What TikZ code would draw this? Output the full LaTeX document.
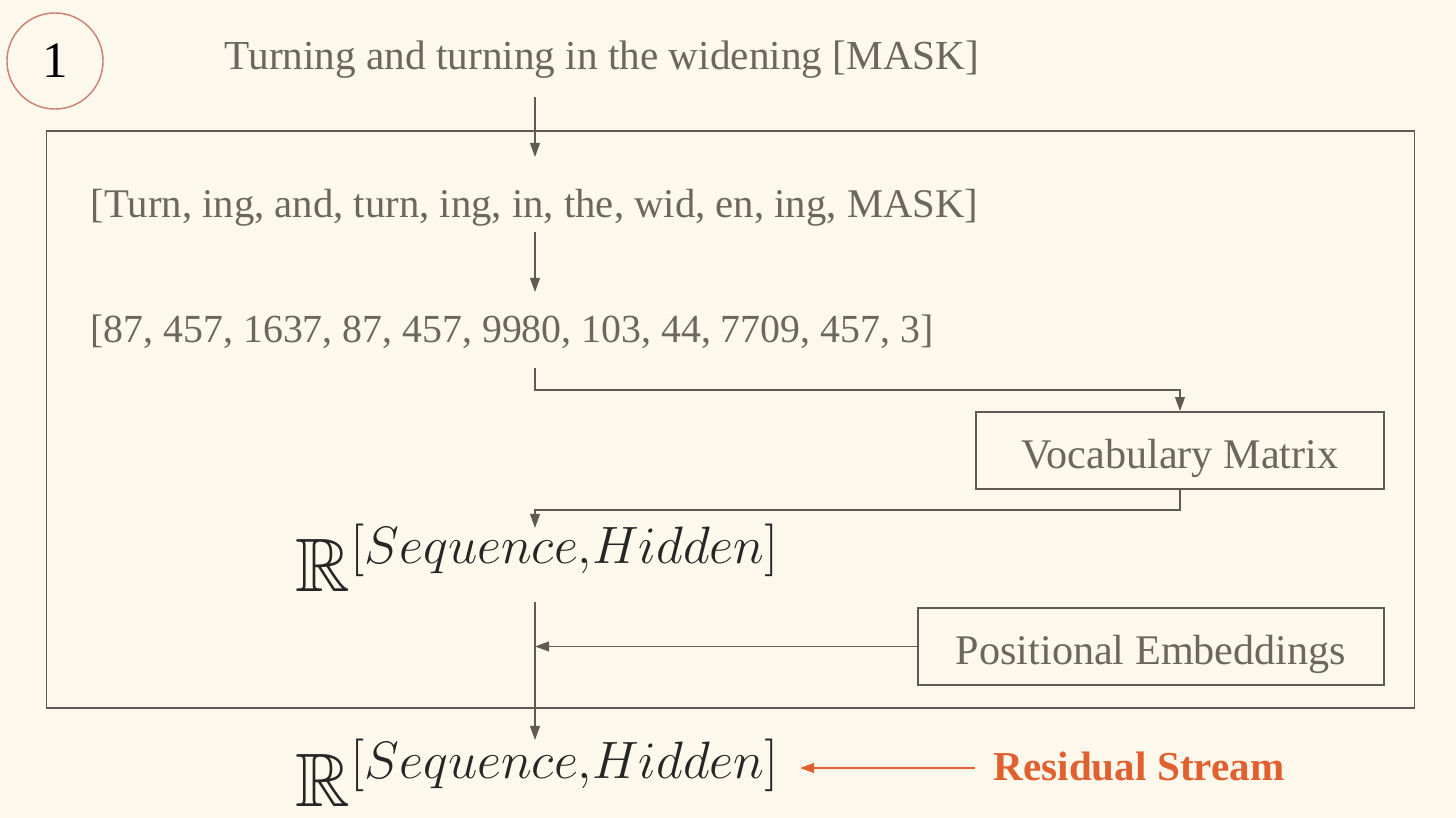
\documentclass[tikz,border=0pt]{standalone}
\usepackage{amssymb}
\usepackage{fontspec}
\setmainfont{Liberation Serif}
\usetikzlibrary{arrows.meta}
\definecolor{bg}{HTML}{FDF8EC}
\definecolor{txt}{HTML}{6B675C}
\definecolor{ln}{HTML}{5E5B52}
\definecolor{circ}{HTML}{CC7E72}
\definecolor{org}{HTML}{E0602F}
\begin{document}
\begin{tikzpicture}[x=0.01cm,y=-0.01cm,
  lbl/.style={inner sep=0pt,text=txt},
  boxn/.style={draw=ln,line width=0.5pt,inner sep=0pt,text=txt,font=\fontsize{12}{14}\selectfont,text height=10.2pt,text depth=0pt},
  arr/.style={draw=ln,line width=0.4pt,-{Triangle[length=4pt,width=2.8pt]}},
  mth/.style={inner sep=0pt,text=black!85,font=\fontsize{20.74}{24}\selectfont}]
\fill[bg] (0,0) rectangle (1456,818);
\useasboundingbox (0,0) rectangle (1456,818);
% step badge
\node[circle,draw=circ,line width=0.4pt,minimum size=0.96cm,inner sep=0pt,font=\fontsize{14.5}{16}\selectfont] (badge) at (55,61) {1};
% title
\node[lbl,anchor=base west,font=\fontsize{11.73}{14}\selectfont] (title) at (224,70) {Turning and turning in the widening [MASK]};
% outer frame
\node[draw=ln,line width=0.5pt,minimum width=13.67cm,minimum height=5.77cm,inner sep=0pt] (frame) at (730.5,419.5) {};
% tokens
\node[lbl,anchor=base west,font=\fontsize{11.58}{14}\selectfont] (tok) at (90,217) {[Turn, ing, and, turn, ing, in, the, wid, en, ing, MASK]};
% ids
\node[lbl,anchor=base west,font=\fontsize{11.32}{14}\selectfont] (ids) at (90,343) {[87, 457, 1637, 87, 457, 9980, 103, 44, 7709, 457, 3]};
% boxes
\node[boxn,minimum width=4.08cm,minimum height=0.77cm] (vocab) at (1180,450.5) {Vocabulary Matrix};
\node[boxn,minimum width=4.66cm,minimum height=0.77cm] (pos) at (1151,646.5) {Positional Embeddings};
% math
\node[mth,anchor=base west] (r1) at (295,591) {\scalebox{1.039}{$\mathbb{R}^{[Sequence,Hidden]}$}};
\node[mth,anchor=base west] (r2) at (295,806) {\scalebox{1.039}{$\mathbb{R}^{[Sequence,Hidden]}$}};
% residual label
\node[inner sep=0pt,anchor=base west,text=org,font=\fontsize{11.7}{14}\selectfont\bfseries] (res) at (993,780) {Residual Stream};
% coordinates
\coordinate (a1s) at (535,97);
\coordinate (a1e) at (535,157);
\coordinate (a2s) at (535,232);
\coordinate (a2e) at (535,292);
\coordinate (a3s) at (535,368);
\coordinate (a4e) at (535,528);
\coordinate (a5s) at (535,602);
\coordinate (a5e) at (535,740);
\coordinate (ress) at (975,768);
\coordinate (rese) at (800,768);
% connectors
\draw[arr] (a1s) -- (a1e);
\draw[arr] (a2s) -- (a2e);
\draw[arr] (a3s) -- ++(0,22) -| (vocab.north);
\draw[arr] (vocab.south) -- ++(0,20) -| (a4e);
\draw[arr] (a5s) -- (a5e);
\draw[arr] (pos.west) -- (pos.west -| a5s);
\draw[draw=org,line width=0.4pt,-{Triangle[length=4pt,width=2.8pt]}] (ress) -- (rese);
\end{tikzpicture}
\end{document}
